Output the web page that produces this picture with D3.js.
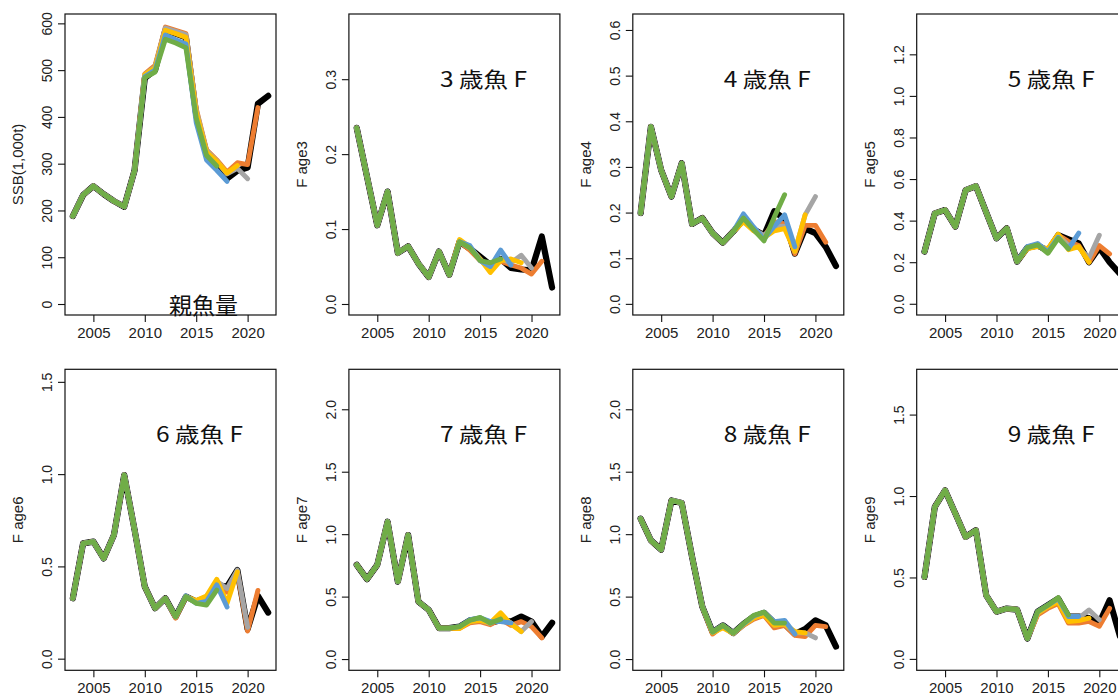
<!DOCTYPE html>
<html><head><meta charset="utf-8">
<script src="https://cdn.jsdelivr.net/npm/d3@7"></script>
<style>body{margin:0;background:#fff} svg{display:block}</style>
</head><body><svg id="c" width="1118" height="697"></svg>
<script>
// ---------------- DATA ----------------
const years = [2003,2004,2005,2006,2007,2008,2009,2010,2011,2012,2013,2014,2015,2016,2017,2018,2019,2020,2021,2022];
const peelLabels = ["2022","2021","2020","2019","2018","2017"];
const xTicks = [2005,2010,2015,2020];

const panelTitles = ["", "3 歳魚 F", "4 歳魚 F", "5 歳魚 F", "6 歳魚 F", "7 歳魚 F", "8 歳魚 F", "9 歳魚 F"];
const yTitles = ["SSB(1,000t)", "F age3", "F age4", "F age5", "F age6", "F age7", "F age8", "F age9"];
const yTicks = [
  [0,100,200,300,400,500,600],
  [0,0.1,0.2,0.3],
  [0,0.1,0.2,0.3,0.4,0.5,0.6],
  [0,0.2,0.4,0.6,0.8,1.0,1.2],
  [0,0.5,1.0,1.5],
  [0,0.5,1.0,1.5,2.0],
  [0,0.5,1.0,1.5,2.0],
  [0,0.5,1.0,1.5]
];
const yLimits = [[-23.5,620],[-0.0147,0.387],[-0.0244,0.635],[-0.054,1.394],[-0.063,1.568],[-0.09,2.32],[-0.09,2.32],[-0.07,1.778]];

// each series = shared head (early years) + tail per retrospective peel (black, orange, grey, yellow, blue, green)
const ssbHead = [188,233,252,235,220,208,285];
const ssbTails = [
  [483,500,585,578,570,405,322,300,268,285,292,428,445],
  [492,510,592,585,578,418,330,308,282,302,298,420],
  [490,507,590,583,576,415,328,306,278,290,268],
  [490,505,585,578,570,410,325,305,280,296],
  [486,500,575,565,556,388,308,286,262],
  [484,496,566,558,548,398,318,295]
];
const f3Head = [0.235,0.17,0.105,0.15,0.068,0.077,0.054,0.036,0.07,0.039];
const f3Tails = [
  [0.083,0.074,0.063,0.052,0.06,0.048,0.046,0.045,0.09,0.022],
  [0.083,0.072,0.058,0.05,0.057,0.052,0.048,0.04,0.057],
  [0.083,0.075,0.06,0.048,0.06,0.055,0.065,0.048],
  [0.086,0.076,0.06,0.042,0.058,0.06,0.055],
  [0.083,0.078,0.058,0.05,0.072,0.052],
  [0.083,0.075,0.058,0.055,0.06]
];
const f4Head = [0.199,0.388,0.293,0.235,0.308,0.175,0.188,0.155,0.134,0.158];
const f4Tails = [
  [0.185,0.163,0.15,0.203,0.185,0.11,0.165,0.155,0.125,0.083],
  [0.185,0.163,0.148,0.18,0.175,0.11,0.172,0.172,0.135],
  [0.185,0.163,0.15,0.17,0.17,0.115,0.195,0.235],
  [0.18,0.16,0.145,0.16,0.165,0.115,0.195],
  [0.197,0.168,0.142,0.17,0.195,0.125],
  [0.188,0.162,0.138,0.19,0.239]
];
const f5Head = [0.251,0.435,0.451,0.371,0.547,0.566,0.44,0.315,0.363,0.203];
const f5Tails = [
  [0.27,0.28,0.255,0.33,0.31,0.29,0.2,0.27,0.2,0.145],
  [0.27,0.28,0.255,0.33,0.3,0.28,0.2,0.28,0.24],
  [0.27,0.28,0.26,0.33,0.28,0.27,0.22,0.33],
  [0.265,0.275,0.265,0.335,0.26,0.275,0.2],
  [0.275,0.29,0.25,0.32,0.265,0.34],
  [0.27,0.283,0.243,0.315,0.265]
];
const f6Head = [0.327,0.625,0.634,0.543,0.67,0.995,0.7,0.39,0.273,0.327];
const f6Tails = [
  [0.227,0.336,0.31,0.33,0.4,0.39,0.48,0.16,0.34,0.25],
  [0.22,0.336,0.305,0.33,0.41,0.36,0.47,0.15,0.37],
  [0.227,0.336,0.31,0.33,0.42,0.38,0.48,0.17],
  [0.227,0.336,0.315,0.34,0.43,0.3,0.47],
  [0.227,0.34,0.3,0.31,0.4,0.28],
  [0.227,0.336,0.3,0.29,0.372]
];
const f7Head = [0.754,0.64,0.754,1.1,0.62,0.993,0.46,0.394,0.248,0.248];
const f7Tails = [
  [0.26,0.31,0.32,0.29,0.31,0.3,0.34,0.3,0.18,0.29],
  [0.245,0.29,0.3,0.275,0.32,0.27,0.3,0.26,0.17],
  [0.26,0.3,0.31,0.285,0.33,0.29,0.22,0.3],
  [0.245,0.3,0.31,0.29,0.37,0.28,0.22],
  [0.26,0.315,0.33,0.3,0.3,0.29],
  [0.26,0.31,0.333,0.288,0.32]
];
const f8Head = [1.124,0.95,0.876,1.27,1.25,0.82,0.42];
const f8Tails = [
  [0.216,0.27,0.208,0.28,0.34,0.37,0.29,0.28,0.2,0.24,0.31,0.27,0.1],
  [0.2,0.265,0.205,0.27,0.32,0.35,0.25,0.27,0.19,0.18,0.27,0.26],
  [0.216,0.27,0.208,0.275,0.33,0.36,0.27,0.28,0.21,0.21,0.17],
  [0.21,0.25,0.205,0.275,0.33,0.355,0.27,0.28,0.22,0.21],
  [0.216,0.27,0.208,0.28,0.345,0.375,0.3,0.31,0.2],
  [0.216,0.27,0.208,0.283,0.35,0.376,0.288,0.288]
];
const f9Head = [0.503,0.933,1.035,0.892,0.749,0.79,0.39,0.29,0.309,0.303,0.125];
const f9Tails = [
  [0.29,0.33,0.37,0.26,0.26,0.25,0.22,0.36,0.14],
  [0.27,0.31,0.34,0.22,0.22,0.23,0.2,0.31],
  [0.28,0.32,0.36,0.25,0.25,0.3,0.24],
  [0.28,0.32,0.35,0.23,0.235,0.25],
  [0.29,0.33,0.37,0.26,0.26],
  [0.29,0.33,0.376,0.27]
];

const heads = [ssbHead,f3Head,f4Head,f5Head,f6Head,f7Head,f8Head,f9Head];
const tails = [ssbTails,f3Tails,f4Tails,f5Tails,f6Tails,f7Tails,f8Tails,f9Tails];

// ---------------- STYLE / LAYOUT ----------------
const peelColors = ["#000000","#ED7D31","#A5A5A5","#FFC000","#5B9BD5","#70AD47"];
const latin = "'Liberation Sans', Arial, sans-serif";
const cjk = "'Noto Sans CJK JP', sans-serif";
const cellW = 283.9, rowH = 355.3;
const plotL = 65, plotW = 211, plotT = 14, plotH = 301;

const svg = d3.select("#c");
svg.append("rect").attr("width",1118).attr("height",697).attr("fill","#fff");

for (let p = 0; p < 8; p++) {
  const col = p % 4, row = Math.floor(p / 4);
  const x0 = col * cellW + plotL, y0 = row * rowH + plotT;
  const g = svg.append("g").attr("transform", `translate(${x0},${y0})`);
  const x = d3.scaleLinear().domain([2002.24, 2022.76]).range([0, plotW]);
  const y = d3.scaleLinear().domain(yLimits[p]).range([plotH, 0]);

  const clipId = "clip" + p;
  g.append("clipPath").attr("id", clipId).append("rect").attr("width", plotW).attr("height", plotH);
  const lg = g.append("g").attr("clip-path", `url(#${clipId})`);

  const line = d3.line().x(d => x(d[0])).y(d => y(d[1]));
  tails[p].forEach((tail, i) => {
    const vals = heads[p].concat(tail);
    const pts = vals.map((v, j) => [years[j], v]);
    lg.append("path").datum(pts)
      .attr("d", line)
      .attr("fill", "none")
      .attr("stroke", peelColors[i])
      .attr("stroke-width", i === 0 ? 6.2 : 4.9)
      .attr("stroke-linejoin", "round")
      .attr("stroke-linecap", "round")
      .attr("data-peel", peelLabels[i]);
  });

  // frame
  g.append("rect").attr("width", plotW).attr("height", plotH)
    .attr("fill", "none").attr("stroke", "#111").attr("stroke-width", 1.2);

  // x axis
  const xa = g.append("g").attr("transform", `translate(0,${plotH})`)
    .call(d3.axisBottom(x).tickValues(xTicks).tickFormat(d3.format("d")).tickSizeOuter(0).tickSizeInner(7).tickPadding(4));
  xa.select(".domain").remove();
  xa.selectAll("line").attr("stroke", "#111").attr("stroke-width", 1.1);
  xa.selectAll("text").attr("font-family", latin).attr("font-size", 15).attr("fill", "#222")
    .attr("y", 23).attr("dy", null);

  // y axis
  const fmt = p === 0 ? d3.format("d") : d3.format(".1f");
  const ya = g.append("g")
    .call(d3.axisLeft(y).tickValues(yTicks[p]).tickFormat(fmt).tickSizeOuter(0).tickSizeInner(7));
  ya.select(".domain").remove();
  ya.selectAll("line").attr("stroke", "#111").attr("stroke-width", 1.1);
  ya.selectAll("text")
    .attr("font-family", latin).attr("font-size", 14).attr("fill", "#222")
    .attr("x", null).attr("dy", null)
    .attr("text-anchor", "middle")
    .attr("transform", "translate(-13,0) rotate(-90)");

  // y title
  g.append("text")
    .attr("transform", `translate(-42,${plotH/2}) rotate(-90)`)
    .attr("text-anchor", "middle")
    .attr("font-family", latin).attr("font-size", 15).attr("fill", "#222")
    .text(yTitles[p]);

  // panel title
  if (panelTitles[p]) {
    g.append("text")
      .attr("x", 91).attr("y", 73)
      .attr("font-family", cjk).attr("font-size", 21).attr("fill", "#111")
      .attr("textLength", 87).attr("lengthAdjust", "spacingAndGlyphs")
      .text(panelTitles[p]);
  }
}

// label in first panel
svg.append("text")
  .attr("x", 169).attr("y", 314)
  .attr("font-family", cjk).attr("font-size", 23).attr("fill", "#111")
  .text("親魚量");
</script>
</body></html>
